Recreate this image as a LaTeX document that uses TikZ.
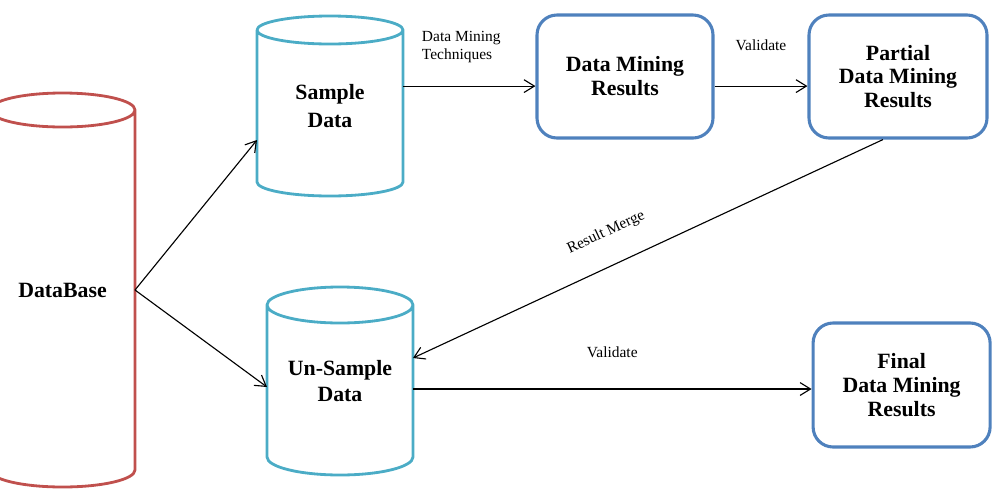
\documentclass[tikz,border=0pt]{standalone}
\usepackage{fontspec}
\setmainfont{Liberation Serif}
\usetikzlibrary{arrows.meta,positioning}
\definecolor{dbred}{RGB}{192,80,77}
\definecolor{cylaqua}{RGB}{75,172,198}
\definecolor{boxblue}{RGB}{79,129,189}
\tikzset{
  storebody/.style = {rectangle, inner sep=0pt, outer sep=0pt, align=center,
                      font=\fontsize{15.5}{18}\selectfont\bfseries},
  cyl/.style       = {line width=2pt, line join=round},
  result/.style    = {rectangle, rounded corners=0.5cm, draw=boxblue, line width=2.2pt,
                      align=center, minimum width=4.4cm, minimum height=3.075cm,
                      font=\fontsize{15.5}{17}\selectfont\bfseries},
  flow/.style      = {-{Straight Barb[length=2.6mm,width=3.2mm]}, line width=0.8pt},
  flowlabel/.style = {font=\fontsize{11}{13}\selectfont, align=left},
}

\begin{document}
\begin{tikzpicture}
  \useasboundingbox (0,0) rectangle (24.9,-12.2);

  % stores (body between the two end ellipses)
  \node[storebody, minimum width=3.625cm, minimum height=9cm] (db) at (1.5625,-7.25) {DataBase};
  \node[storebody, minimum width=3.65cm, minimum height=3.8cm] (sam) at (8.25,-2.65) {Sample\\[2pt]Data};
  \node[storebody, minimum width=3.65cm, minimum height=3.8cm] (uns) at (8.5,-9.525) {Un-Sample\\Data};

  \draw[cyl, draw=dbred] (db.north west) -- (db.south west)
    arc[start angle=180, end angle=360, x radius=1.8125cm, y radius=0.425cm] -- (db.north east)
    arc[start angle=0, end angle=360, x radius=1.8125cm, y radius=0.425cm];
  \draw[cyl, draw=cylaqua] (sam.north west) -- (sam.south west)
    arc[start angle=180, end angle=360, x radius=1.825cm, y radius=0.35cm] -- (sam.north east)
    arc[start angle=0, end angle=360, x radius=1.825cm, y radius=0.35cm];
  \draw[cyl, draw=cylaqua] (uns.north west) -- (uns.south west)
    arc[start angle=180, end angle=360, x radius=1.825cm, y radius=0.45cm] -- (uns.north east)
    arc[start angle=0, end angle=360, x radius=1.825cm, y radius=0.45cm];

  % results
  \node[result] (dmr) at (15.625,-1.9125) {Data Mining\\Results};
  \node[result, minimum width=4.45cm] (pdm) at (22.45,-1.9125) {Partial\\Data Mining\\Results};
  \node[result, minimum width=4.425cm, minimum height=3.1cm] (fdm) at (22.54,-9.625) {Final\\Data Mining\\Results};

  % flows
  \draw[flow] (db.east) -- ([yshift=-0.85cm]sam.west);
  \draw[flow] (db.east) -- ([yshift=-0.15cm]uns.west);
  \draw[flow] ([yshift=-0.24cm]dmr.west -| sam.east) -- node[flowlabel, pos=0.44, above=0.44cm] {Data Mining\\Techniques} ([yshift=-0.24cm]dmr.west);
  \draw[flow] ([yshift=-0.24cm]dmr.east) -- node[flowlabel, above=0.75cm] {Validate} ([yshift=-0.24cm]pdm.west);
  \draw[flow] ([xshift=-0.375cm]pdm.south) -- node[flowlabel, sloped, pos=0.56, above=0.5cm] {Result Merge} ([yshift=0.575cm]uns.east);
  \draw[flow] ([yshift=-0.1cm]fdm.west -| uns.east) -- node[flowlabel, above=0.66cm] {Validate} ([yshift=-0.1cm]fdm.west);
\end{tikzpicture}
\end{document}
